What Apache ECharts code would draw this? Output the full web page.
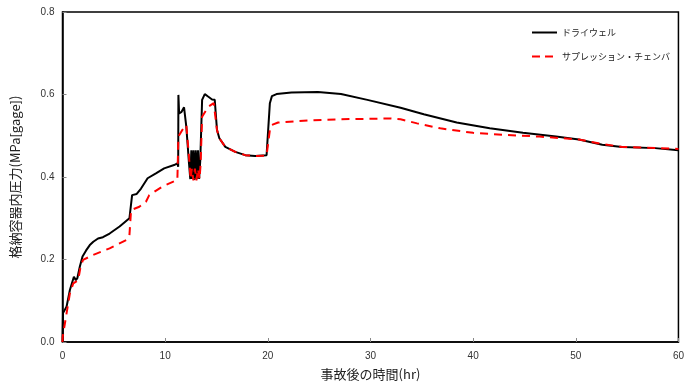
<!DOCTYPE html>
<html><head><meta charset="utf-8">
<script src="https://cdn.jsdelivr.net/npm/echarts@6/dist/echarts.min.js"></script>
<style>html,body{margin:0;padding:0;background:#fff}#c{width:687px;height:389px}</style>
</head><body><div id="c"></div>
<script>
var xTicks = [0, 10, 20, 30, 40, 50, 60];
var yTicks = [0.0, 0.2, 0.4, 0.6, 0.8];
var seriesNames = ['ドライウェル', 'サプレッション・チェンバ'];

var dwTime = [0, 0.05, 0.4, 0.72, 1.11, 1.3, 1.45, 1.69, 1.95, 2.3, 2.66, 3.0, 3.46, 3.94, 4.59, 5.56, 6.52, 6.62, 6.78, 7.23, 7.65, 8.29, 9.1, 9.9, 10.87, 11.19, 11.27, 11.29, 11.36, 11.6, 11.84, 12.06, 12.32, 12.45, 12.55, 12.65, 12.76, 12.87, 12.98, 13.09, 13.2, 13.31, 13.42, 13.6, 13.86, 14.18, 14.57, 14.83, 15.05, 15.28, 15.86, 16.83, 17.8, 18.76, 19.88, 20.2, 20.4, 20.85, 22.3, 24.88, 27.13, 29.7, 32.93, 35.19, 38.4, 41.62, 44.85, 48.07, 50.3, 52.58, 54.5, 57.73, 60];
var dwValue = [0.0, 0.07, 0.086, 0.126, 0.158, 0.15, 0.155, 0.183, 0.207, 0.222, 0.235, 0.243, 0.251, 0.254, 0.263, 0.28, 0.30, 0.302, 0.356, 0.359, 0.372, 0.397, 0.409, 0.421, 0.429, 0.433, 0.425, 0.599, 0.554, 0.558, 0.569, 0.522, 0.434, 0.395, 0.465, 0.395, 0.465, 0.393, 0.465, 0.395, 0.465, 0.395, 0.44, 0.587, 0.601, 0.595, 0.588, 0.587, 0.514, 0.494, 0.473, 0.461, 0.453, 0.451, 0.453, 0.579, 0.596, 0.601, 0.605, 0.606, 0.601, 0.587, 0.568, 0.552, 0.532, 0.518, 0.507, 0.498, 0.491, 0.478, 0.473, 0.47, 0.465];

var scTime = [0, 0.02, 0.4, 0.72, 1.05, 1.53, 1.76, 2.0, 2.98, 4.59, 6.2, 6.52, 6.68, 7.49, 8.13, 8.45, 9.74, 11.19, 11.29, 11.67, 12.06, 12.32, 12.48, 12.6, 12.75, 12.9, 13.05, 13.2, 13.35, 13.45, 13.6, 14.18, 14.73, 15.05, 15.28, 15.86, 16.83, 17.8, 18.76, 19.88, 20.2, 20.37, 21.0, 23.9, 27.13, 31.96, 32.93, 34.54, 36.8, 40.0, 43.2, 46.45, 50.3, 52.58, 54.5, 60];
var scValue = [0.0, 0.013, 0.07, 0.118, 0.142, 0.15, 0.183, 0.199, 0.211, 0.227, 0.247, 0.259, 0.32, 0.328, 0.34, 0.356, 0.377, 0.393, 0.498, 0.514, 0.526, 0.45, 0.395, 0.42, 0.392, 0.42, 0.392, 0.42, 0.395, 0.43, 0.546, 0.57, 0.579, 0.514, 0.494, 0.473, 0.461, 0.453, 0.451, 0.452, 0.514, 0.526, 0.532, 0.537, 0.54, 0.542, 0.54, 0.53, 0.518, 0.507, 0.502, 0.498, 0.491, 0.48, 0.473, 0.468];

function zip(a, b) { return a.map(function (t, i) { return [t, b[i]]; }); }

var chart = echarts.init(document.getElementById('c'), null, {renderer: 'canvas'});
var labelFont = {fontFamily: '"Liberation Sans", Arial, sans-serif', fontSize: 10, color: '#333'};
chart.setOption({
  animation: false,
  backgroundColor: '#fff',
  grid: {left: 62.5, right: 4, top: 12, bottom: 47, show: true, borderColor: '#000', borderWidth: 1.5, backgroundColor: 'transparent'},
  legend: {
    show: true, orient: 'vertical', left: 532, top: 28, padding: 0, itemWidth: 25, itemHeight: 2.5, itemGap: 15,
    textStyle: {fontFamily: '"Noto Sans CJK JP", sans-serif', fontSize: 9, color: '#222', padding: [0, 0, 0, 0]},
    data: [
      {name: seriesNames[0], icon: 'path://M0,0H25V2H0Z'},
      {name: seriesNames[1], icon: 'path://M0,0H8V2H0Z M13,0H21V2H13Z M21,0H25V0.01H21Z'}
    ]
  },
  xAxis: {
    type: 'value', min: 0, max: 60, interval: 10,
    name: '事故後の時間(hr)', nameLocation: 'middle', nameGap: 26,
    nameTextStyle: {fontFamily: '"Noto Sans CJK JP", sans-serif', fontSize: 13, color: '#222'},
    axisLine: {show: true, lineStyle: {color: '#000', width: 1.5}},
    axisTick: {show: true, inside: true, length: 4, lineStyle: {color: '#888'}},
    axisLabel: Object.assign({margin: 9, formatter: function (v) { return xTicks.indexOf(v) >= 0 ? String(v) : ''; }}, labelFont),
    splitLine: {show: false}
  },
  yAxis: {
    type: 'value', min: 0, max: 0.8, interval: 0.2,
    name: '格納容器内圧力(MPa[gage])', nameLocation: 'middle', nameGap: 41,
    nameTextStyle: {fontFamily: '"Noto Sans CJK JP", sans-serif', fontSize: 13, color: '#222'},
    axisLine: {show: true, lineStyle: {color: '#000', width: 1.5}},
    axisTick: {show: true, inside: true, length: 4, lineStyle: {color: '#888'}},
    axisLabel: Object.assign({margin: 8, formatter: function (v) { return v.toFixed(1); }}, labelFont),
    splitLine: {show: false}
  },
  series: [
    {name: seriesNames[0], type: 'line', data: zip(dwTime, dwValue), showSymbol: false, symbol: 'none',
     lineStyle: {color: '#000', width: 2}, itemStyle: {color: '#000'}, z: 3},
    {name: seriesNames[1], type: 'line', data: zip(scTime, scValue), showSymbol: false, symbol: 'none',
     lineStyle: {color: '#ff0000', width: 2, type: [8, 6]}, itemStyle: {color: '#ff0000'}, z: 4}
  ]
});
</script></body></html>
